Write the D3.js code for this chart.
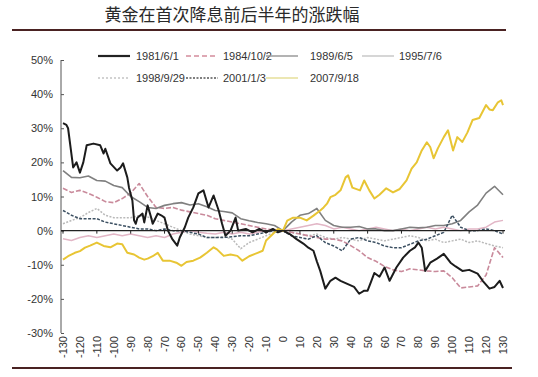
<!DOCTYPE html>
<html>
<head>
<meta charset="utf-8">
<script src="https://cdn.jsdelivr.net/npm/d3@7"></script>
<style>
  body { margin: 0; background: #fff; }
  svg { display: block; }
  text { font-family: "Liberation Sans", Arial, sans-serif; }
</style>
</head>
<body>
<svg id="chart"></svg>
<script>
const W = 538, H = 377;

// 降息日前后的交易日
const days = [-130, -125, -120, -115, -110, -105, -100, -95, -90, -85, -80, -75, -70, -65, -60, -55, -50, -45, -40, -35, -30, -25, -20, -15, -10, -5,
  0, 5, 10, 15, 20, 25, 30, 35, 40, 45, 50, 55, 60, 65, 70, 75, 80, 85, 90, 95, 100, 105, 110, 115, 120, 125, 130];
// 1981 和 2007 读得更细
const days1981 = [-130, -128, -127, -124, -122, -120, -118, -116, -112, -108, -106, -105, -102, -98, -96, -94.5, -92, -91, -89, -88, -87, -86, -83, -82, -80, -78, -77, -74, -72, -70, -68, -65.5, -62.5, -61, -58, -56, -53, -50, -47, -44, -41, -38, -36, -34, -31, -28, -26.5, -22, -18, -14, -10, -6, -3,
  0, 4, 8, 12, 15, 18, 20, 22, 25, 28, 31, 34, 38, 42, 45, 48, 50, 52, 54, 57, 60, 63, 67, 71, 75, 78, 80, 82, 84, 87, 91, 95, 99, 102, 106, 110, 115, 118, 122, 125, 128, 130];
const days2007 = [-130, -127, -123, -120, -117, -114, -110, -106, -102, -98, -95, -92, -88, -85, -82, -80, -77, -74, -71, -67, -63, -60, -57, -53, -49, -45, -41, -39, -35, -31, -27, -24, -20, -15, -12, -10, -6, -3,
  0, 2.5, 6, 10, 14, 18, 22, 24, 26, 28, 31, 34, 37, 38.5, 41, 45.5, 48, 51, 54, 57, 61, 65, 69, 73, 76, 79, 82, 85, 87, 89, 91.5, 95, 97.5, 100.5, 103, 106, 109, 112, 116, 120, 122, 124, 127, 129, 130];

const yTicks = [-30, -20, -10, 0, 10, 20, 30, 40, 50];
const xTicks = [-130, -120, -110, -100, -90, -80, -70, -60, -50, -40, -30, -20, -10, 0, 10, 20, 30, 40, 50, 60, 70, 80, 90, 100, 110, 120, 130];

const seriesNames = ["1981/6/1", "1984/10/2", "1989/6/5", "1995/7/6", "1998/9/29", "2001/1/3", "2007/9/18"];

// 涨跌幅 (%)
const s1981 = [31.5, 31, 30, 18.5, 20, 17, 20, 25, 25.5, 25, 22.6, 24, 19.7, 17.6, 18.5, 19.7, 15.6, 12.6, 8.8, 3, 2, 3.8, 5, 2.4, 7.4, 4, 2, 5, 4.5, 3.8, 0, -2.4, -4.4, -2, 1, 3.8, 6.8, 10.9, 11.8, 6.8, 10.3, 5.9, 2, -1.5, 0, 3.8, 0, 0.5, -0.5, 0.5, -0.5, 0.5, -0.5,
  0, -1, -2.5, -3.8, -5, -5.9, -9, -11.8, -17, -14.7, -13.8, -14.7, -15.6, -16.5, -18.5, -17.6, -17.6, -15, -12.4, -13.5, -10.8, -14.7, -10.8, -7.9, -5.9, -4.9, -3.5, -5, -11.8, -9.4, -8.2, -6.8, -9.4, -10.5, -11.8, -11.5, -12.6, -14.7, -17, -16.5, -14.7, -16.8];
const s1984 = [12.4, 11.2, 11.8, 10.9, 9.8, 8.5, 8.2, 9.4, 11, 13.8, 10, 6.8, 6.5, 6.8, 6, 5.5, 5, 4.5, 3.5, 3, 2.5, 2, 1.5, 1, 0.5, 0.2,
  0, -0.5, -1, -1.5, -2, -2.5, -2.5, -3, -4.4, -5.9, -7.9, -9, -10.5, -11.5, -12, -11.2, -11.5, -11.8, -12, -11.8, -13.8, -16.8, -16.5, -16.2, -13, -5, -7.9];
const s1989 = [17.6, 15.6, 15.5, 16, 14.7, 14.5, 13.2, 12.6, 10, 8.5, 6.8, 6.5, 7.4, 7.9, 8.2, 7.5, 7.9, 7, 5.9, 5.6, 5.2, 3.5, 2.9, 2.4, 2, 1.5,
  0, 2.5, 4.5, 5, 6.5, 3, 1.5, 1, 1, 1.2, 0.5, 0.5, 0, 0, 0.5, 1, 0.8, 1, 1.5, 1.5, 2, 3, 5.5, 7.5, 11, 13, 10.5];
const s1995 = [-2.4, -2.9, -2, -1.5, -2, -1.5, -1, -1.5, -1, -1.5, -2, -1.5, -2, -1, -0.5, 0, -0.5, -0.8, -1, -0.5, -1, -0.5, -1, -0.5, 0, 0.3,
  0, 0.5, 1, 1.5, 2, 1.5, 0.5, 1, 0.5, 0, 0.5, 1, 0.5, 0, 0.5, 0, 0.5, 1, 0.5, 1, 0.5, 0, 0.5, 0.5, 1, 2.5, 3];
const s1998 = [2, 3, 3.8, 5.3, 6.5, 4.5, 3.8, 3.8, 3.8, 4.4, 4, 3, 2, 1, 0, -1, -1.5, -2, -2, -1.8, -2.5, -5.3, -3.5, -2.5, -1.5, -0.5,
  0, -0.5, -1, -1.5, -1, -2, -2.5, -2, -2.5, -3, -2, -2.5, -3, -2.5, -2, -1.5, -2, -3, -2.5, -3.5, -3, -2.5, -3.5, -3, -3.8, -4.5, -5];
const s2001 = [5.9, 4.5, 3.5, 3.5, 3.5, 2.5, 2, 1.5, 1, 0.5, 0.5, 0, 0.5, 0, 0, -0.5, -1, -2, -2, -2, -1.8, -1.5, -1.5, -1, -0.5, 0,
  0, -1.5, -2, -2.5, -1.5, -3.5, -4.5, -5.9, -2.5, -2, -3, -3.5, -4.5, -5, -5, -4, -3, -2.5, -1.5, -0.5, 4.5, 1, 0, 0, 0.5, 0, -1];
const s2007 = [-8.5, -7.5, -6.5, -6, -5, -4.4, -3.5, -4.5, -4.9, -3.8, -4, -6.5, -7, -7.9, -8.5, -8.2, -7.5, -6.5, -8.8, -8.8, -9.4, -10.3, -9.2, -8.8, -7.9, -6.5, -4.9, -5.5, -7.4, -7, -7.4, -8.8, -7.5, -6.5, -5.9, -2.9, -1, 0.5,
  0, 2.9, 3.8, 3.8, 3, 4.4, 5.9, 6.8, 7.9, 9.8, 10.5, 11.8, 15.6, 16.2, 12.6, 11.8, 14.7, 11.8, 9.4, 10.5, 12.4, 11.2, 12.2, 14.7, 18.2, 20, 23.5, 25.9, 24.5, 21.2, 24.1, 27.4, 29.4, 23.5, 27.4, 26, 28.8, 32.4, 33, 36.8, 35.5, 35.3, 37.6, 38.2, 36.8];

const seriesDays = [days1981, days, days, days, days, days, days2007];
const seriesValues = [s1981, s1984, s1989, s1995, s1998, s2001, s2007];

// 样式
const lineColor = ["#1c1c1c", "#c98a9b", "#808080", "#e2b6c6", "#b9b9b9", "#3c5062", "#e8c534"];
const lineWidth = [2, 1.6, 1.6, 1.5, 1.5, 1.5, 2];
const lineDash = [null, "5,2", null, null, "2,1.5", "3,1.5", null];
const drawOrder = [4, 3, 1, 2, 5, 0, 6];

const svg = d3.select("#chart").attr("width", W).attr("height", H);

// 标题
svg.append("text")
  .attr("x", 232).attr("y", 21)
  .attr("text-anchor", "middle")
  .style("font-family", "'Noto Sans CJK SC', sans-serif")
  .style("font-size", "17px")
  .style("fill", "#2a2a2a")
  .text("黄金在首次降息前后半年的涨跌幅");

svg.append("line").attr("x1", 12).attr("x2", 506).attr("y1", 30).attr("y2", 30)
  .style("stroke", "#4a2222").style("stroke-width", 2);
svg.append("line").attr("x1", 12).attr("x2", 512).attr("y1", 368).attr("y2", 368)
  .style("stroke", "#4a2222").style("stroke-width", 2);

const x = d3.scaleLinear().domain([-130, 130]).range([63, 503]);
const y = d3.scaleLinear().domain([-30, 50]).range([333, 60]);

// y 轴
const yAxis = svg.append("g").attr("transform", "translate(61,0)")
  .call(d3.axisRight(y).tickValues(yTicks).tickSize(3).tickFormat(d => d + "%"));
yAxis.select(".domain").style("stroke", "#555").attr("d", `M0,${y(50)}V${y(-30)}`);
yAxis.selectAll(".tick line").style("stroke", "#555");
yAxis.selectAll(".tick text")
  .attr("x", -8).attr("text-anchor", "end")
  .style("font-size", "11px").style("fill", "#333");

// 线
drawOrder.forEach(k => {
  const dd = seriesDays[k];
  const line = d3.line()
    .x((d, i) => x(dd[i]))
    .y(d => y(d));
  svg.append("path")
    .datum(seriesValues[k])
    .attr("d", line)
    .style("fill", "none")
    .style("stroke", lineColor[k])
    .style("stroke-width", lineWidth[k])
    .style("stroke-dasharray", lineDash[k])
    .style("stroke-linejoin", "round");
});

// x 轴 (0% 处)
svg.append("line")
  .attr("x1", 61).attr("x2", 505)
  .attr("y1", y(0)).attr("y2", y(0))
  .style("stroke", "#222").style("stroke-width", 1.2);

svg.selectAll(".xtick")
  .data(xTicks.filter((d, i) => i % 2 === 0))
  .enter().append("line")
  .attr("x1", d => x(d)).attr("x2", d => x(d))
  .attr("y1", y(0)).attr("y2", y(0) + 3)
  .style("stroke", "#222");

svg.selectAll(".xlab")
  .data(xTicks)
  .enter().append("text")
  .attr("transform", d => `translate(${x(d) + 4},336) rotate(-90)`)
  .attr("text-anchor", "end")
  .style("font-size", "11px")
  .style("fill", "#333")
  .text(d => d);

// 图例
const legendPos = [[98, 56], [186, 56], [266, 56], [362, 56], [98, 78], [186, 78], [266, 78]];
const legendTextX = [136, 223, 310, 399, 136, 223, 310];
const legendColor = ["#222", "#d48c9c", "#9a9a9a", "#c8c8c8", "#c4c4c4", "#555", "#e6df9a"];
const legendDash = [null, "5,3", null, null, "2,2", "2,1.5", null];

seriesNames.forEach((name, k) => {
  const [lx, ly] = legendPos[k];
  svg.append("line")
    .attr("x1", lx).attr("x2", lx + 32)
    .attr("y1", ly).attr("y2", ly)
    .style("stroke", legendColor[k])
    .style("stroke-width", k === 0 ? 2.2 : 1.5)
    .style("stroke-dasharray", legendDash[k]);
  svg.append("text")
    .attr("x", legendTextX[k]).attr("y", ly + 4)
    .style("font-size", "11px")
    .style("fill", "#333")
    .text(name);
});
</script>
</body>
</html>
